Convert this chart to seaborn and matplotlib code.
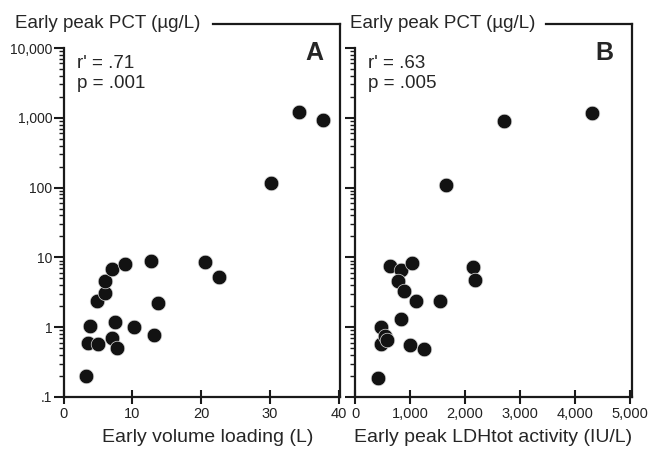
import numpy as np
import pandas as pd
import matplotlib
matplotlib.use('Agg')
import matplotlib.pyplot as plt
import matplotlib.ticker as mticker
import seaborn as sns

# Panel A: early volume loading (L) vs early peak PCT (ug/L)
volume_l = [3.3, 3.5, 3.8, 5.0, 4.8, 6.1, 6.1, 7.1, 9.0, 12.7, 7.0, 7.5, 7.8,
            10.3, 13.2, 13.8, 20.6, 22.6, 30.2, 34.3, 37.8]
pct_a = [0.2, 0.6, 1.05, 0.58, 2.4, 3.1, 4.6, 6.9, 8.0, 8.9, 0.7, 1.2, 0.5,
         1.0, 0.78, 2.2, 8.5, 5.2, 115, 1200, 930]

# Panel B: early peak LDHtot activity (IU/L) vs early peak PCT (ug/L)
ldh_iu = [420, 470, 470, 545, 590, 640, 830, 780, 890, 1040, 1100, 830, 1000,
          1250, 1545, 2140, 2180, 1650, 2710, 4300]
pct_b = [0.19, 1.0, 0.58, 0.76, 0.66, 7.5, 6.6, 4.6, 3.3, 8.4, 2.4, 1.3, 0.56,
         0.48, 2.4, 7.2, 4.7, 110, 900, 1160]

y_ticks = [0.1, 1, 10, 100, 1000, 10000]
y_tick_labels = ['.1', '1', '10', '100', '1,000', '10,000']
xa_ticks = [0, 10, 20, 30, 40]
xa_tick_labels = ['0', '10', '20', '30', '40']
xb_ticks = [0, 1000, 2000, 3000, 4000, 5000]
xb_tick_labels = ['0', '1,000', '2,000', '3,000', '4,000', '5,000']

sns.set_style('ticks')
plt.rcParams['font.family'] = ['Liberation Sans', 'DejaVu Sans']

W, H = 652, 451
fig = plt.figure(figsize=(W / 100, H / 100), dpi=100)

def px_axes(x0, x1, ytop, ybot):
    return fig.add_axes([x0 / W, (H - ybot) / H, (x1 - x0) / W, (ybot - ytop) / H])

axA = px_axes(63.5, 340, 24, 397)
axB = px_axes(355, 632, 24, 397)

df_a = pd.DataFrame({'x': volume_l, 'y': pct_a})
df_b = pd.DataFrame({'x': ldh_iu, 'y': pct_b})

ytop = 10 ** (4 + 24 / 69.8)
minor = [m * 10.0 ** e for e in range(-1, 4) for m in range(2, 10)]

panels = [
    (axA, df_a, (0, 40.2), xa_ticks, xa_tick_labels, 21.8, True),
    (axB, df_b, (0, 5036), xb_ticks, xb_tick_labels, 3480, False),
]
for ax, df, xlim, xt, xtl, top_start, show_ylab in panels:
    sns.scatterplot(data=df, x='x', y='y', ax=ax, s=110, color='#121212',
                    edgecolor='#d8d8d8', linewidth=0.5, legend=False, zorder=3)
    ax.set_yscale('log')
    ax.set_xlim(*xlim)
    ax.set_ylim(0.1, ytop)
    ax.set_xticks(xt)
    ax.set_xticklabels(xtl, fontsize=10.5, color='#222222')
    ax.set_yticks(y_ticks)
    ax.yaxis.set_minor_locator(mticker.FixedLocator(minor))
    ax.yaxis.set_minor_formatter(mticker.NullFormatter())
    if show_ylab:
        ax.set_yticklabels(y_tick_labels, fontsize=10, color='#222222')
    else:
        ax.set_yticklabels([])
    ax.set_xlabel('')
    ax.set_ylabel('')
    for side in ['left', 'right', 'top', 'bottom']:
        ax.spines[side].set_visible(True)
        ax.spines[side].set_linewidth(1.6)
        ax.spines[side].set_color('#1a1a1a')
    ax.spines['left'].set_bounds(0.1, 10000)
    ax.spines['top'].set_bounds(top_start, xlim[1])
    ax.tick_params(axis='x', direction='inout', length=10, width=1.5, pad=2,
                   color='#1a1a1a')
    ax.tick_params(axis='y', which='major', direction='out', length=7, width=1.5,
                   pad=1, color='#1a1a1a')
    ax.tick_params(axis='y', which='minor', direction='out', length=3.5, width=1.0,
                   color='#1a1a1a')
    ax.grid(False)

def ftext(x, y, s, **kw):
    fig.text(x / W, (H - y) / H, s, **kw)

ftext(15, 24, 'Early peak PCT (µg/L)', fontsize=13.5, va='center', ha='left')
ftext(350, 24, 'Early peak PCT (µg/L)', fontsize=13.5, va='center', ha='left')

ftext(77, 63, "r' = .71", fontsize=13.5, va='center', ha='left')
ftext(77, 83, 'p = .001', fontsize=13.5, va='center', ha='left')
ftext(368, 63, "r' = .63", fontsize=13.5, va='center', ha='left')
ftext(368, 83, 'p = .005', fontsize=13.5, va='center', ha='left')

ftext(314, 53, 'A', fontsize=18, fontweight='bold', va='center', ha='center')
ftext(604, 53, 'B', fontsize=18, fontweight='bold', va='center', ha='center')

ftext(208, 437, 'Early volume loading (L)', fontsize=14, va='center', ha='center')
ftext(493, 437, 'Early peak LDHtot activity (IU/L)', fontsize=14, va='center', ha='center')

fig.savefig('out.png', dpi=100)
